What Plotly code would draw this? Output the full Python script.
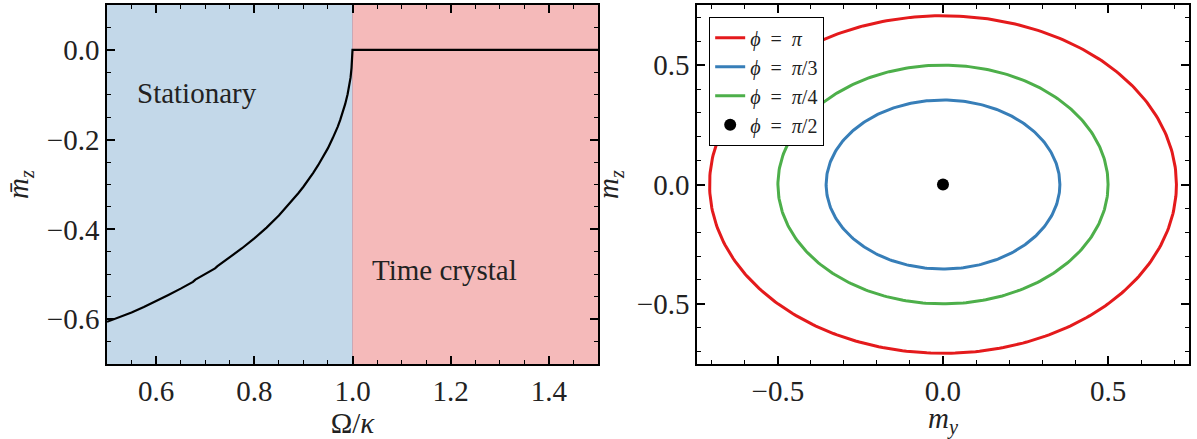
import numpy as np
import plotly.graph_objects as go

# ---- left panel data ----
omega = [0.50, 0.525, 0.55, 0.575, 0.60, 0.625, 0.65, 0.675, 0.68, 0.70, 0.72, 0.725, 0.75,
         0.775, 0.80, 0.825, 0.85, 0.86, 0.875, 0.89, 0.90, 0.91, 0.92, 0.93, 0.94, 0.95,
         0.96, 0.965, 0.97, 0.975, 0.98, 0.985, 0.99, 0.993, 0.996, 0.998, 1.000, 1.01, 1.05,
         1.10, 1.15, 1.20, 1.25, 1.30, 1.35, 1.40, 1.45, 1.50]
mz_bar = [-0.606, -0.596, -0.585, -0.573, -0.560, -0.546, -0.532, -0.517, -0.512, -0.500,
          -0.487, -0.482, -0.463, -0.442, -0.420, -0.396, -0.369, -0.357, -0.339, -0.319,
          -0.305, -0.290, -0.274, -0.257, -0.238, -0.219, -0.196, -0.184, -0.171, -0.156,
          -0.139, -0.121, -0.099, -0.083, -0.062, -0.040, 0.000, 0.000, 0.000, 0.000, 0.000,
          0.000, 0.000, 0.000, 0.000, 0.000, 0.000, 0.000]
stationary_range = [0.5, 1.0]
crystal_range = [1.0, 1.5]

# ---- right panel data ----
SP = "\u2002"
phi_labels = [f"<i>ϕ</i>{SP}={SP}<i>π</i>", f"<i>ϕ</i>{SP}={SP}<i>π</i>/3", f"<i>ϕ</i>{SP}={SP}<i>π</i>/4"]
radii = [0.707, 0.354, 0.500]
colors = ["#e41a1c", "#377eb8", "#4daf4a"]
fixed_point_label = f"<i>ϕ</i>{SP}={SP}<i>π</i>/2"
fixed_point = [0.0, 0.0]

FONT = "Liberation Serif"
fig = go.Figure()

fig.add_trace(go.Scatter(x=omega, y=mz_bar, mode="lines", line=dict(color="black", width=2.2),
                         showlegend=False, xaxis="x", yaxis="y"))

theta = np.linspace(0, 2 * np.pi, 361)
for lab, r, c in zip(phi_labels, radii, colors):
    fig.add_trace(go.Scatter(x=r * np.cos(theta), y=r * np.sin(theta), mode="lines",
                             line=dict(color=c, width=3), name=lab, xaxis="x2", yaxis="y2"))
fig.add_trace(go.Scatter(x=[fixed_point[0]], y=[fixed_point[1]], mode="markers",
                         marker=dict(color="black", size=12), name=fixed_point_label,
                         xaxis="x2", yaxis="y2"))

fig.add_shape(type="rect", xref="x", yref="y domain", x0=stationary_range[0], x1=stationary_range[1],
              y0=0, y1=1, fillcolor="#c3d8e9", line_width=0, layer="below")
fig.add_shape(type="rect", xref="x", yref="y domain", x0=crystal_range[0], x1=crystal_range[1],
              y0=0, y1=1, fillcolor="#f5baba", line_width=0, layer="below")
fig.add_shape(type="line", xref="x", yref="y domain", x0=1.0, x1=1.0, y0=0, y1=1,
              line=dict(color="#c9a9b6", width=1), layer="below")

fig.add_annotation(x=0.557, y=-0.096, xref="x", yref="y", text="Stationary", showarrow=False,
                   xanchor="left", yanchor="middle", font=dict(family=FONT, size=29, color="#222"))
fig.add_annotation(x=1.035, y=-0.49, xref="x", yref="y", text="Time crystal", showarrow=False,
                   xanchor="left", yanchor="middle", font=dict(family=FONT, size=29, color="#222"))

axis_common = dict(showline=True, linecolor="black", linewidth=1.6, mirror="ticks",
                   ticks="inside", ticklen=8, tickwidth=1.6, tickcolor="black",
                   showgrid=False, zeroline=False,
                   tickfont=dict(family=FONT, size=29, color="#222"))

minor_common = dict(ticks="inside", ticklen=4.5, tickwidth=1.3, tickcolor="black", showgrid=False)

fig.update_layout(
    width=1197, height=439, margin=dict(l=0, r=0, t=0, b=0),
    plot_bgcolor="white", paper_bgcolor="white",
    font=dict(family=FONT, color="#222"),
    xaxis=dict(domain=[0.0894, 0.4996], range=[0.5, 1.5], tick0=0.6, dtick=0.2, tickformat=".1f",
               minor=dict(dtick=0.05, **minor_common),
               title=dict(text="Ω/<i>κ</i>", font=dict(family=FONT, size=29), standoff=6),
               **axis_common),
    yaxis=dict(domain=[0.1708, 0.9886], range=[-0.7, 0.1], tick0=0, dtick=0.2, tickformat=".1f",
               minor=dict(dtick=0.05, **minor_common),
               title=dict(text="<i>m̄</i><sub><i>z</i></sub>", font=dict(family=FONT, size=29), standoff=10),
               **axis_common),
    xaxis2=dict(domain=[0.5823, 0.9933], range=[-0.745, 0.745], tick0=0, dtick=0.5, tickformat=".1f",
                anchor="y2", minor=dict(dtick=0.1, **minor_common),
                title=dict(text="<i>m</i><sub><i>y</i></sub>", font=dict(family=FONT, size=29), standoff=12),
                **axis_common),
    yaxis2=dict(domain=[0.1708, 0.9886], range=[-0.752, 0.752], tick0=0, dtick=0.5, tickformat=".1f",
                anchor="x2", minor=dict(dtick=0.1, **minor_common),
                title=dict(text="<i>m</i><sub><i>z</i></sub>", font=dict(family=FONT, size=29), standoff=10),
                **axis_common),
    legend=dict(x=0.5923, y=0.961, xanchor="left", yanchor="top", bgcolor="white",
                bordercolor="black", borderwidth=1.2, font=dict(family=FONT, size=20, color="#222"),
                tracegroupgap=0, itemwidth=30),
)

fig.write_html("out.html")
